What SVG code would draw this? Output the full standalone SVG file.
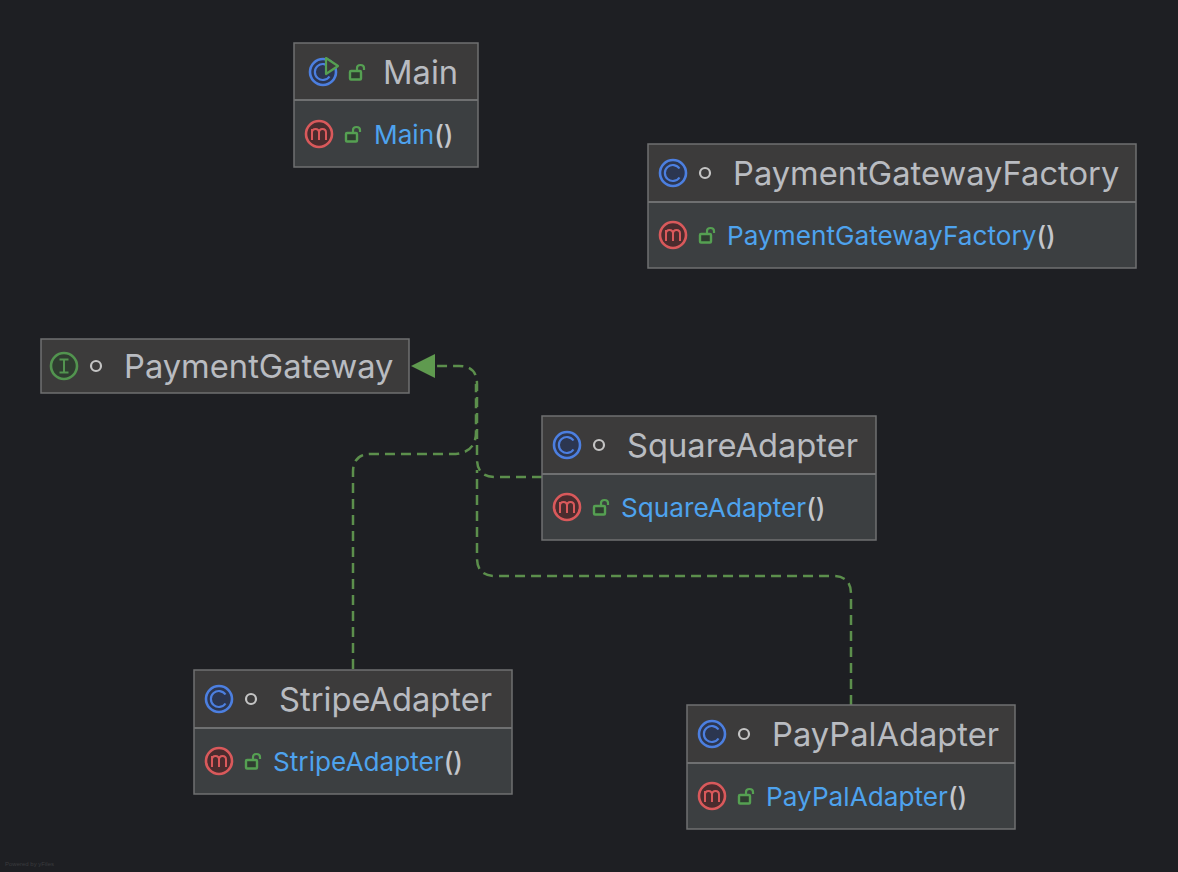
<svg xmlns="http://www.w3.org/2000/svg" width="1178" height="872" viewBox="0 0 1178 872">
<style>
.head{fill:#3c3b3b}
.body{fill:#3c3f41}
.frame{fill:none;stroke:#6f7071;stroke-width:1.5}
.div{stroke:#6f7071;stroke-width:2}
.title{font-family:Inter,"Noto Sans",sans-serif;font-size:32.7px;fill:#b9bcc1}
.mem{font-family:Inter,"Noto Sans",sans-serif;font-size:26.2px;fill:#4ea3ee}
.par{fill:#c4c6cb;font-weight:500}
.conn{fill:none;stroke:#5c8f4c;stroke-width:2.5;stroke-dasharray:10 6}
.vis{fill:none;stroke:#c4c4c4;stroke-width:2.2}
</style>
<defs>
<g id="ci">
<circle r="13" fill="#2c3650" stroke="#4c7fe0" stroke-width="2.6"/>
<path d="M6.5,-4.5A8,8 0 1 0 6.5,4.5" fill="none" stroke="#4c7fe0" stroke-width="2.2"/>
</g>
<g id="mi">
<circle r="13" fill="#4a2c2e" stroke="#d9595b" stroke-width="2.6"/>
<path d="M-7,6V-5M-7,-1.5Q-7,-5 -3.5,-5Q0,-5 0,-1.5V6M0,-1.5Q0,-5 3.5,-5Q7,-5 7,-1.5V6" fill="none" stroke="#d9595b" stroke-width="2"/>
</g>
<g id="ii">
<circle r="13" fill="#2f3d30" stroke="#52944f" stroke-width="2.6"/>
<path d="M-4.5,-6.5H4.5M-4.5,6.5H4.5M0,-6.5V6.5" fill="none" stroke="#52944f" stroke-width="2"/>
</g>
<g id="lock">
<rect x="-7" y="-2" width="11" height="8.5" rx="1" fill="#2f3d30" stroke="#55a052" stroke-width="2.4"/>
<path d="M0,-2V-5Q0,-8 3.5,-8Q7,-8 7,-5V-3" fill="none" stroke="#55a052" stroke-width="2.2"/>
</g>
<circle id="dot" r="5" class="vis"/>
</defs>
<rect width="1178" height="872" fill="#1e1f23"/>
<g id="connectors">
<path class="conn" d="M542,477H495Q477,477 477,459V384Q477,366 459,366H434"/>
<path class="conn" d="M353,669V472Q353,454 371,454H452Q476,454 476,432V384"/>
<path class="conn" d="M851,705V594Q851,576 833,576H495Q477,576 477,558V470"/>
<polygon points="411,366 435,354 435,378" fill="#5f9a4f"/>
</g>
<g id="node-main">
<rect class="head" x="294" y="43" width="184" height="57"/><rect class="body" x="294" y="100" width="184" height="67"/>
<rect class="frame" x="294" y="43" width="184" height="124"/><path class="div" d="M294,100H478"/>
<use href="#ci" x="323" y="72"/>
<path d="M326,58L338,66L326,74Z" fill="#3c3b3b" stroke="#55a052" stroke-width="2.2" stroke-linejoin="round"/>
<use href="#lock" x="357" y="73"/>
<text class="title" x="383" y="84">Main</text>
<use href="#mi" x="319" y="134"/><use href="#lock" x="353" y="135"/>
<text class="mem" x="374" y="144">Main<tspan class="par">()</tspan></text>
</g>
<g id="node-factory">
<rect class="head" x="648" y="144" width="488" height="58"/><rect class="body" x="648" y="202" width="488" height="66"/>
<rect class="frame" x="648" y="144" width="488" height="124"/><path class="div" d="M648,202H1136"/>
<use href="#ci" x="673" y="173"/><use href="#dot" x="705" y="173"/>
<text class="title" x="733" y="185">PaymentGatewayFactory</text>
<use href="#mi" x="673" y="235"/><use href="#lock" x="707" y="236"/>
<text class="mem" x="727" y="245">PaymentGatewayFactory<tspan class="par">()</tspan></text>
</g>
<g id="node-gateway">
<rect class="head" x="41" y="339" width="368" height="54"/>
<rect class="frame" x="41" y="339" width="368" height="54"/>
<use href="#ii" x="64" y="366"/><use href="#dot" x="96" y="366"/>
<text class="title" x="124" y="378">PaymentGateway</text>
</g>
<g id="node-square">
<rect class="head" x="542" y="416" width="334" height="58"/><rect class="body" x="542" y="474" width="334" height="66"/>
<rect class="frame" x="542" y="416" width="334" height="124"/><path class="div" d="M542,474H876"/>
<use href="#ci" x="567" y="445"/><use href="#dot" x="599" y="445"/>
<text class="title" x="627" y="457">SquareAdapter</text>
<use href="#mi" x="567" y="507"/><use href="#lock" x="601" y="508"/>
<text class="mem" x="621" y="517">SquareAdapter<tspan class="par">()</tspan></text>
</g>
<g id="node-stripe">
<rect class="head" x="194" y="670" width="318" height="58"/><rect class="body" x="194" y="728" width="318" height="66"/>
<rect class="frame" x="194" y="670" width="318" height="124"/><path class="div" d="M194,728H512"/>
<use href="#ci" x="219" y="699"/><use href="#dot" x="251" y="699"/>
<text class="title" x="279" y="711">StripeAdapter</text>
<use href="#mi" x="219" y="761"/><use href="#lock" x="253" y="762"/>
<text class="mem" x="273" y="771">StripeAdapter<tspan class="par">()</tspan></text>
</g>
<g id="node-paypal">
<rect class="head" x="687" y="705" width="328" height="58"/><rect class="body" x="687" y="763" width="328" height="66"/>
<rect class="frame" x="687" y="705" width="328" height="124"/><path class="div" d="M687,763H1015"/>
<use href="#ci" x="712" y="734"/><use href="#dot" x="744" y="734"/>
<text class="title" x="772" y="746">PayPalAdapter</text>
<use href="#mi" x="712" y="796"/><use href="#lock" x="746" y="797"/>
<text class="mem" x="766" y="806">PayPalAdapter<tspan class="par">()</tspan></text>
</g>
<text x="5" y="866" font-family="Liberation Sans,sans-serif" font-size="6" fill="#3a3b3e">Powered by yFiles</text>
</svg>
